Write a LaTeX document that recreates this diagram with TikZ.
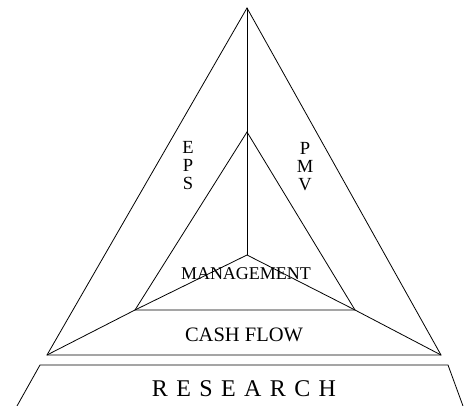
\documentclass[tikz,border=0pt]{standalone}
\usepackage{fontspec}
\setmainfont{Liberation Serif}

\begin{document}
\begin{tikzpicture}[x=1pt,y=-1pt,line width=0.8pt,
  lbl/.style={inner sep=0pt,anchor=center},
  stack/.style={lbl,align=center,font=\fontsize{18.5}{18}\selectfont}]
\useasboundingbox (0,0) rectangle (464,406);
% outer triangle
\coordinate (otop) at (247,8);
\coordinate (oleft) at (47,355);
\coordinate (oright) at (441,355);
% inner triangle
\coordinate (itop) at (247,132);
\coordinate (ileft) at (135,310);
\coordinate (iright) at (355,310);
\coordinate (ictr) at (247,255);
% research base
\coordinate (rtl) at (40,365);
\coordinate (rtr) at (448,365);
\coordinate (rbl) at (17,406);
\coordinate (rbr) at (463,406);
\draw (otop) -- (oleft) -- (oright) -- cycle;
\draw (itop) -- (ileft) -- (iright) -- cycle;
\draw (otop) -- (ictr);
\draw (ileft) -- (ictr) -- (iright);
\draw (ileft) -- (oleft);
\draw (iright) -- (oright);
\draw (rbl) -- (rtl) -- (rtr) -- (rbr);
\node[stack] (eps) at (188,166) {E\\P\\S};
\node[stack] (pmv) at (305,167) {P\\M\\V};
\node[lbl,font=\fontsize{18}{20}\selectfont] (mgmt) at (246,274) {MANAGEMENT};
\node[lbl,font=\fontsize{20.5}{24}\selectfont] (cash) at (244,335) {CASH FLOW};
\node[lbl,font=\fontsize{24}{28}\selectfont\addfontfeature{LetterSpace=35}] (res) at (244,389) {RESEARCH};
\end{tikzpicture}
\end{document}
